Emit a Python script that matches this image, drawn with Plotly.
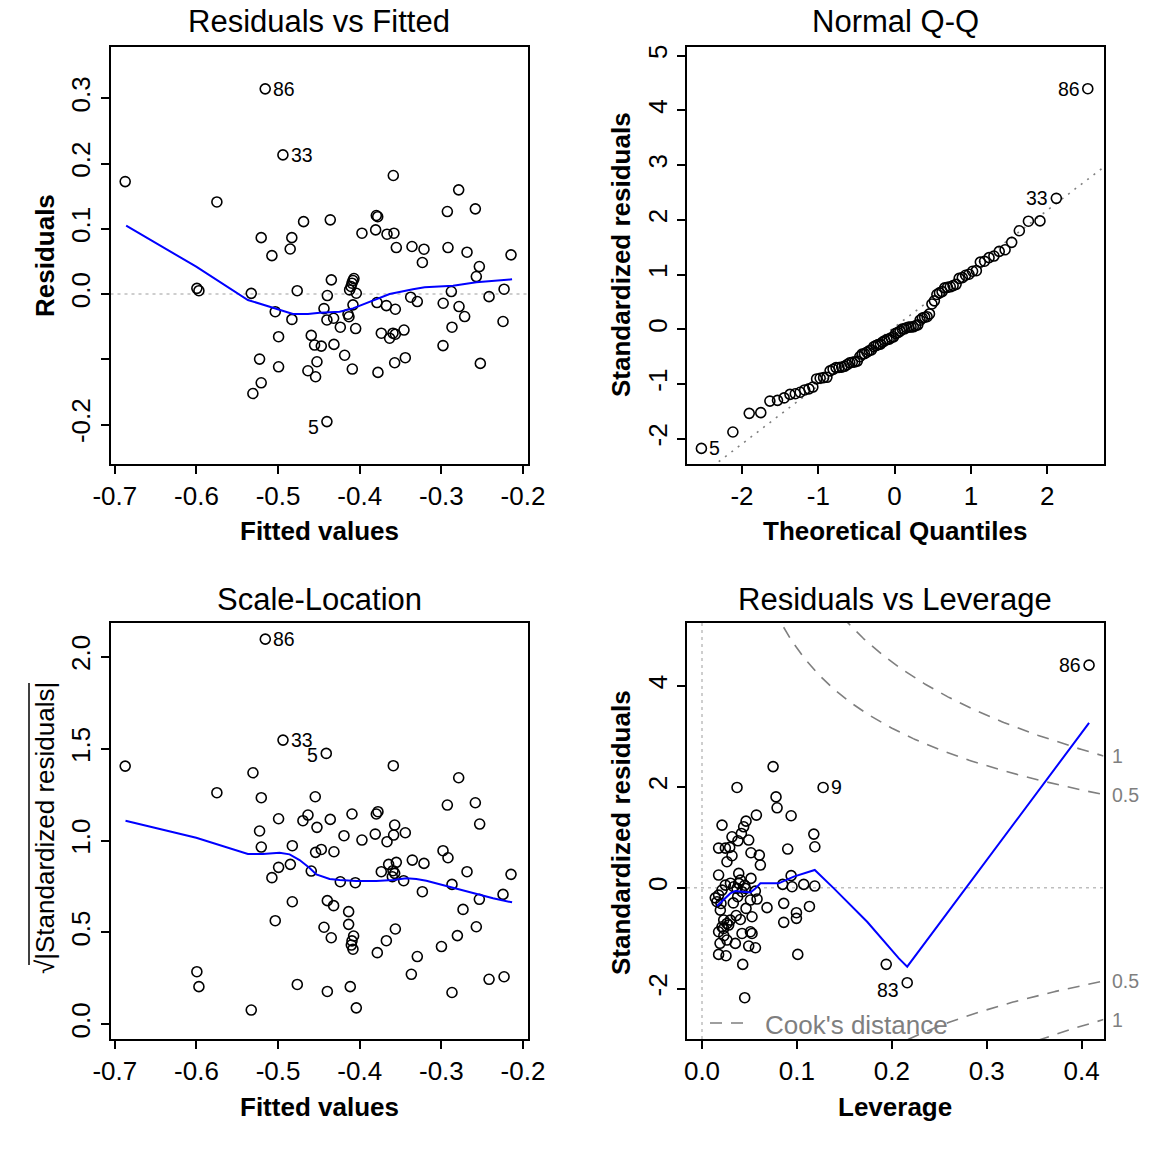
import numpy as np
import plotly.graph_objects as go
from statistics import NormalDist

FONT = "Liberation Sans, Arial, Helvetica, sans-serif"
GRAY = "#BEBEBE"
GRAY50 = "#7F7F7F"

# ---------------- Panel 1: Residuals vs Fitted ----------------
fitted1 = [-0.6873, -0.5158, -0.4941, -0.5750, -0.4688, -0.5207, -0.4832, -0.4852, -0.5076,
           -0.5995, -0.5970, -0.5329, -0.4766, -0.5035, -0.4831, -0.4994, -0.4594, -0.4553,
           -0.5227, -0.4994, -0.4524, -0.4635, -0.4541, -0.5207, -0.5309, -0.4402,
           -0.3589, -0.2788, -0.2927, -0.2584, -0.4361, -0.3797, -0.3780, -0.3973, -0.3805,
           -0.3666, -0.3581, -0.3552, -0.3360, -0.3213, -0.2919, -0.2686, -0.2147, -0.3233,
           -0.2535, -0.2572, -0.4348, -0.4071, -0.4083, -0.4095, -0.4107, -0.4124, -0.4042,
           -0.4397, -0.2878, -0.2232, -0.2416, -0.3376, -0.3295, -0.3789, -0.3674, -0.3564,
           -0.2978, -0.2784, -0.2715, -0.4438, -0.4402, -0.4320, -0.4083, -0.4144, -0.4132,
           -0.4238, -0.4050, -0.2870, -0.2245, -0.3736, -0.3634, -0.3593, -0.3564, -0.3458,
           -0.2980, -0.4185, -0.4471, -0.4316, -0.4091, -0.3777, -0.3572, -0.3442, -0.2523]
resid1 = [0.1723, 0.3144, 0.2132, 0.1411, 0.1109, 0.0864, 0.0864, 0.0690, 0.0588,
          0.0087, 0.0051, 0.0010, 0.0051, -0.0271, -0.0389, -0.0654, -0.0634, -0.0782,
          -0.0997, -0.1115, -0.1038, -0.1176, -0.1268, -0.1360, -0.1524, -0.1955,
          0.1816, 0.1596, 0.1264, 0.1305, 0.1137, 0.1203, 0.1185, 0.0932, 0.0983,
          0.0917, 0.0932, 0.0712, 0.0728, 0.0687, 0.0712, 0.0641, 0.0600, 0.0483,
          0.0421, 0.0268, 0.0217, 0.0237, 0.0207, 0.0166, 0.0115, 0.0063, 0.0012,
          -0.0023, 0.0038, 0.0074, -0.0040, -0.0049, -0.0115, -0.0131, -0.0177, -0.0233,
          -0.0141, -0.0192, -0.0345, -0.0223, -0.0397, -0.0371, -0.0166, -0.0309, -0.0348,
          -0.0508, -0.0529, -0.0508, -0.0421, -0.0600, -0.0677, -0.0600, -0.0616, -0.0552,
          -0.0790, -0.0938, -0.0798, -0.0772, -0.1150, -0.1201, -0.1053, -0.0976, -0.1063]
ids1 = {1: "86", 2: "33", 25: "5"}
smooth1_x = [-0.6861, -0.6003, -0.5370, -0.5308, -0.5063, -0.4818, -0.4634, -0.4491, -0.4246,
             -0.4083, -0.3797, -0.3634, -0.3348, -0.3205, -0.2857, -0.2572, -0.2134]
smooth1_y = [0.1048, 0.0419, -0.0092, -0.0118, -0.0210, -0.0307, -0.0307, -0.0286, -0.0271,
             -0.0220, -0.0082, 0.0000, 0.0072, 0.0102, 0.0128, 0.0179, 0.0225]

# ---------------- Standardized residuals (panels 2 and 3) ----------------
fitted3 = [-0.5157, -0.4940, -0.6873, -0.5308, -0.5750, -0.5206, -0.4545, -0.4994, -0.4634,
           -0.4696, -0.4524, -0.5227, -0.5206, -0.4826, -0.4994, -0.4850, -0.4594, -0.5076,
           -0.4826, -0.5035, -0.5995, -0.5970, -0.4765, -0.5329, -0.4410, -0.3589, -0.2788,
           -0.2927, -0.2584, -0.4361, -0.4095, -0.3797, -0.3777, -0.3572, -0.2531, -0.4193,
           -0.3973, -0.3810, -0.3666, -0.3585, -0.3442, -0.4541, -0.4471, -0.4316, -0.2980,
           -0.2919, -0.3356, -0.3213, -0.3646, -0.3552, -0.3736, -0.3593, -0.3572, -0.3601,
           -0.3462, -0.2686, -0.2147, -0.4238, -0.4054, -0.2870, -0.3233, -0.2245, -0.2535,
           -0.4397, -0.4320, -0.4136, -0.2735, -0.4136, -0.4438, -0.4349, -0.3564, -0.2572,
           -0.3674, -0.2804, -0.4075, -0.4095, -0.4103, -0.4083, -0.3785, -0.2999, -0.3295,
           -0.3368, -0.2416, -0.2232, -0.4397, -0.4116, -0.2870, -0.4042]
std3 = [4.395, 2.393, 1.975, -1.875, 1.589, -1.521, -1.534, -1.252, -1.297,
        1.228, -1.149, -1.107, 0.931, 0.945, -0.730, 0.758, -0.696, 0.637,
        -0.445, -0.318, 0.082, 0.042, 0.047, 0.006, -2.174, 1.981, 1.801,
        1.424, 1.454, 1.244, -1.310, 1.310, 1.339, -1.176, -1.188, -1.054,
        1.006, 1.072, 0.988, 1.061, -1.087, -0.876, -0.906, -0.882, -0.893,
        0.822, 0.799, 0.767, -0.758, 0.777, -0.690, -0.699, -0.675, -0.645,
        -0.611, 0.690, 0.666, -0.602, -0.594, -0.580, 0.521, -0.500, 0.463,
        -0.453, -0.417, -0.376, -0.391, -0.296, -0.279, 0.222, -0.269, 0.282,
        -0.207, -0.233, 0.231, 0.206, -0.186, 0.167, -0.152, -0.179, -0.136,
        -0.074, -0.060, 0.067, -0.032, 0.042, 0.030, 0.008]
ids3 = {0: "86", 1: "33", 24: "5"}
smooth3_x = [-0.6869, -0.6003, -0.5370, -0.5186, -0.4982, -0.4859, -0.4737, -0.4614, -0.4532,
             -0.4369, -0.4246, -0.4042, -0.3797, -0.3593, -0.3429, -0.3307, -0.3184, -0.2980,
             -0.2776, -0.2572, -0.2367, -0.2134]
smooth3_y = [1.1081, 1.0156, 0.9268, 0.9268, 0.9340, 0.9250, 0.8940, 0.8510, 0.8160,
             0.7907, 0.7853, 0.7800, 0.7800, 0.7853, 0.7943, 0.7907, 0.7817, 0.7580,
             0.7345, 0.7128, 0.6856, 0.6638]

# ---------------- Panel 4: Residuals vs Leverage ----------------
lev4 = [0.0749, 0.0369, 0.1276, 0.0780, 0.0791, 0.0573, 0.0939, 0.0211, 0.0464, 0.0439,
        0.0415, 0.0316, 0.0379, 0.0492, 0.1178, 0.1189, 0.0175, 0.0246, 0.0292, 0.0516,
        0.0604, 0.0615, 0.0316, 0.0263, 0.0903, 0.0175, 0.0387, 0.0516, 0.0939, 0.0850,
        0.0949, 0.1072, 0.1188, 0.0246, 0.0334, 0.0387, 0.0457, 0.0158, 0.0193, 0.0580,
        0.0510, 0.0685, 0.0376, 0.0464, 0.0527, 0.0404, 0.0861, 0.0861, 0.0995, 0.0995,
        0.1132, 0.0229, 0.0263, 0.0211, 0.0175, 0.0422, 0.0510, 0.0527, 0.0263, 0.0351,
        0.0492, 0.0563, 0.0175, 0.0253, 0.1009, 0.0429, 0.1941, 0.0450, 0.2162, 0.4078,
        0.0369, 0.0422, 0.0404, 0.0175, 0.0211, 0.0200, 0.0298, 0.0281, 0.0228, 0.0562,
        0.0140, 0.0300, 0.0360, 0.0230, 0.0330, 0.0190, 0.0450]
std4 = [2.400, 1.987, 1.987, 1.800, 1.584, 1.440, 1.427, 1.241, 1.320, 1.208,
        1.076, 1.010, 0.930, 0.945, 1.063, 0.813, 0.786, 0.786, 0.800, 0.694,
        0.647, 0.450, 0.634, 0.515, 0.767, 0.252, 0.285, 0.186, 0.240, 0.067,
        0.020, 0.067, 0.034, 0.053, 0.020, 0.087, -0.013, -0.277, -0.443, -0.224,
        -0.243, -0.394, -0.177, -0.409, -0.574, -0.629, -0.309, -0.685, -0.494, -0.606,
        -0.370, -0.640, -0.707, -0.773, -0.871, -0.905, -0.871, -0.905, -1.036, -1.102,
        -1.155, -1.188, -1.320, -1.347, -1.320, -1.518, -1.517, -2.178, -1.881, 4.410,
        -0.013, -0.078, 0.152, -0.145, -0.046, -0.311, -0.641, -0.739, -0.806, -0.066,
        -0.200, 0.090, -0.550, -0.950, -0.300, -1.100, 0.050]
ids4 = {2: "9", 68: "83", 69: "86"}
smooth4_x = [0.0158, 0.0246, 0.0298, 0.0351, 0.0404, 0.0510, 0.0562, 0.0615, 0.0808,
             0.0967, 0.1188, 0.1389, 0.1740, 0.2074, 0.2162, 0.4078]
smooth4_y = [-0.362, -0.211, -0.112, -0.066, -0.078, -0.092, -0.013, 0.087, 0.087,
             0.220, 0.352, -0.012, -0.673, -1.399, -1.564, 3.267]
n_coef = 5
cook_levels = [0.5, 1]

# ---------------- Layout helpers ----------------
# The page body has an 8px margin, so the figure is 1144px and placed at (8, 8).
OFF = 8
W = 1144
def PX(x):
    return (x - OFF) / W
def PY(y):
    return 1 - (y - OFF) / W

XL = [PX(110.5), PX(528)]
XR = [PX(687), PX(1103.5)]
YT = [PY(463.5), PY(46.5)]
YB = [PY(1039), PY(622.5)]

RX1 = [-0.7053, -0.1939]
RY1 = [-0.2597, 0.3793]
RX2 = [-2.72, 2.737]
RY2 = [-2.45, 5.166]
RY3 = [-0.08, 2.187]
RX4 = [-0.0158, 0.423]
RY4 = [-2.996, 5.255]


def axis(domain, rng, vals, texts, anchor, ylike=False):
    d = dict(domain=domain, range=rng, tickmode="array", tickvals=vals, ticktext=texts,
             showline=True, mirror=True, linecolor="black", linewidth=2,
             ticks="outside", ticklen=8, tickwidth=2, tickcolor="black",
             showgrid=False, zeroline=False, anchor=anchor, automargin=False,
             tickfont=dict(size=26, family=FONT, color="black"), fixedrange=True)
    if ylike:
        d["tickangle"] = -90
    return d

fig = go.Figure()

def pts(x, y, xa, ya):
    fig.add_trace(go.Scatter(x=x, y=y, mode="markers", xaxis=xa, yaxis=ya,
                             marker=dict(symbol="circle-open", size=10, color="black",
                                         line=dict(width=1.6, color="black")),
                             hoverinfo="skip"))

def line(x, y, xa, ya, color, width, dash="solid"):
    fig.add_trace(go.Scatter(x=x, y=y, mode="lines", xaxis=xa, yaxis=ya,
                             line=dict(color=color, width=width, dash=dash),
                             hoverinfo="skip"))

annotations = []
def label(text, x, y, xa, ya, side, yshift=0, size=19.5, color="black"):
    annotations.append(dict(text=text, x=x, y=y, xref=xa, yref=ya, showarrow=False,
                            xanchor="left" if side > 0 else "right",
                            xshift=6 * side, yshift=yshift,
                            font=dict(size=size, family=FONT, color=color)))

# Panel 1
line(RX1, [0, 0], "x", "y", GRAY, 1.5, "3px,4px")
pts(fitted1, resid1, "x", "y")
line(smooth1_x, smooth1_y, "x", "y", "#0000FF", 2)
mid1 = (min(fitted1) + max(fitted1)) / 2
for i, t in ids1.items():
    label(t, fitted1[i], resid1[i], "x", "y", 1 if fitted1[i] < mid1 else -1,
          yshift=-5 if t == "5" else 0)

# Panel 2: Normal Q-Q of standardized residuals
std_arr = np.array(std3)
n = len(std_arr)
a = 0.5
probs = [(i + 1 - a) / (n + 1 - 2 * a) for i in range(n)]
theo = np.array([NormalDist().inv_cdf(p) for p in probs])
order = np.argsort(std_arr)
y_sorted = std_arr[order]
q1, q3 = np.percentile(std_arr, [25, 75])
z1, z3 = NormalDist().inv_cdf(0.25), NormalDist().inv_cdf(0.75)
slope = (q3 - q1) / (z3 - z1)
inter = q1 - slope * z1
line([RX2[0] - 0.5, RX2[1] + 0.5], [inter + slope * (RX2[0] - 0.5), inter + slope * (RX2[1] + 0.5)],
     "x2", "y2", GRAY50, 1.6, "2px,6px")
pts(theo, y_sorted, "x2", "y2")
rank = {int(idx): r for r, idx in enumerate(order)}
for i, t in ids3.items():
    xq = theo[rank[i]]
    label(t, xq, std3[i], "x2", "y2", 1 if xq < 0 else -1)

# Panel 3: Scale-Location
sqrt_std = np.sqrt(np.abs(std_arr))
pts(fitted3, sqrt_std, "x3", "y3")
line(smooth3_x, smooth3_y, "x3", "y3", "#0000FF", 2)
mid3 = (min(fitted3) + max(fitted3)) / 2
for i, t in ids3.items():
    label(t, fitted3[i], sqrt_std[i], "x3", "y3", 1 if fitted3[i] < mid3 else -1,
          yshift=-2 if t == "5" else 0)

# Panel 4: Residuals vs Leverage
line(RX4, [0, 0], "x4", "y4", GRAY, 1.5, "3px,4px")
line([0, 0], RY4, "x4", "y4", GRAY, 1.5, "3px,4px")
hh = np.linspace(0.004, RX4[1], 300)
for c in cook_levels:
    cy = np.sqrt(c * n_coef * (1 - hh) / hh)
    line(hh, cy, "x4", "y4", GRAY50, 1.6, "12px,9px")
    line(hh, -cy, "x4", "y4", GRAY50, 1.6, "12px,9px")
    yr = np.sqrt(c * n_coef * (1 - RX4[1]) / RX4[1])
    txt = "1" if c == 1 else "0.5"
    for s in (1, -1):
        annotations.append(dict(text=txt, x=RX4[1], y=s * yr, xref="x4", yref="y4",
                                showarrow=False, xanchor="left", xshift=6,
                                font=dict(size=19.5, family=FONT, color=GRAY50)))
pts(lev4, std4, "x4", "y4")
line(smooth4_x, smooth4_y, "x4", "y4", "#0000FF", 2)
mid4 = (min(lev4) + max(lev4)) / 2
for i, t in ids4.items():
    label(t, lev4[i], std4[i], "x4", "y4", 1 if lev4[i] < mid4 else -1,
          yshift=-7 if t == "83" else 0)

# Titles & axis titles (paper coordinates)
def ptext(text, x, y, size, bold=False, angle=0, color="black", xanchor="center"):
    annotations.append(dict(text=("<b>%s</b>" % text) if bold else text,
                            x=PX(x), y=PY(y), xref="paper", yref="paper",
                            showarrow=False, xanchor=xanchor, yanchor="middle",
                            textangle=angle, font=dict(size=size, family=FONT, color=color)))

ptext("Residuals vs Fitted", 319, 22, 31)
ptext("Normal Q-Q", 895, 22, 31)
ptext("Scale-Location", 319, 599, 31)
ptext("Residuals vs Leverage", 895, 599, 31)
ptext("Fitted values", 319, 531, 26, bold=True)
ptext("Theoretical Quantiles", 895, 531, 26, bold=True)
ptext("Fitted values", 319, 1107, 26, bold=True)
ptext("Leverage", 895, 1107, 26, bold=True)
ptext("Residuals", 45, 256, 26, bold=True, angle=-90)
ptext("Standardized residuals", 621, 255, 26, bold=True, angle=-90)
ptext("Standardized residuals", 621, 833, 26, bold=True, angle=-90)
ptext("\u221a|Standardized residuals|", 45, 828, 26, angle=-90)
ptext("Cook's distance", 763, 1025, 26, color=GRAY50, xanchor="left")

shapes = [
    dict(type="line", xref="paper", yref="paper", x0=PX(710), x1=PX(752),
         y0=PY(1023), y1=PY(1023), line=dict(color=GRAY50, width=1.6, dash="12px,9px")),
    # overbar of the square-root sign in the Scale-Location y label
    dict(type="line", xref="paper", yref="paper", x0=PX(29), x1=PX(29),
         y0=PY(965), y1=PY(683), line=dict(color="black", width=1.5)),
]

fig.update_layout(
    width=W, height=W, margin=dict(l=0, r=0, t=0, b=0),
    paper_bgcolor="white", plot_bgcolor="white", showlegend=False,
    xaxis=axis(XL, RX1, [-0.7, -0.6, -0.5, -0.4, -0.3, -0.2],
               ["-0.7", "-0.6", "-0.5", "-0.4", "-0.3", "-0.2"], "y"),
    yaxis=axis(YT, RY1, [-0.2, -0.1, 0.0, 0.1, 0.2, 0.3],
               ["-0.2", "", "0.0", "0.1", "0.2", "0.3"], "x", True),
    xaxis2=axis(XR, RX2, [-2, -1, 0, 1, 2], ["-2", "-1", "0", "1", "2"], "y2"),
    yaxis2=axis(YT, RY2, [-2, -1, 0, 1, 2, 3, 4, 5],
                ["-2", "-1", "0", "1", "2", "3", "4", "5"], "x2", True),
    xaxis3=axis(XL, RX1, [-0.7, -0.6, -0.5, -0.4, -0.3, -0.2],
                ["-0.7", "-0.6", "-0.5", "-0.4", "-0.3", "-0.2"], "y3"),
    yaxis3=axis(YB, RY3, [0.0, 0.5, 1.0, 1.5, 2.0], ["0.0", "0.5", "1.0", "1.5", "2.0"], "x3", True),
    xaxis4=axis(XR, RX4, [0.0, 0.1, 0.2, 0.3, 0.4], ["0.0", "0.1", "0.2", "0.3", "0.4"], "y4"),
    yaxis4=axis(YB, RY4, [-2, 0, 2, 4], ["-2", "0", "2", "4"], "x4", True),
    annotations=annotations, shapes=shapes,
)

fig.write_html("out.html")
